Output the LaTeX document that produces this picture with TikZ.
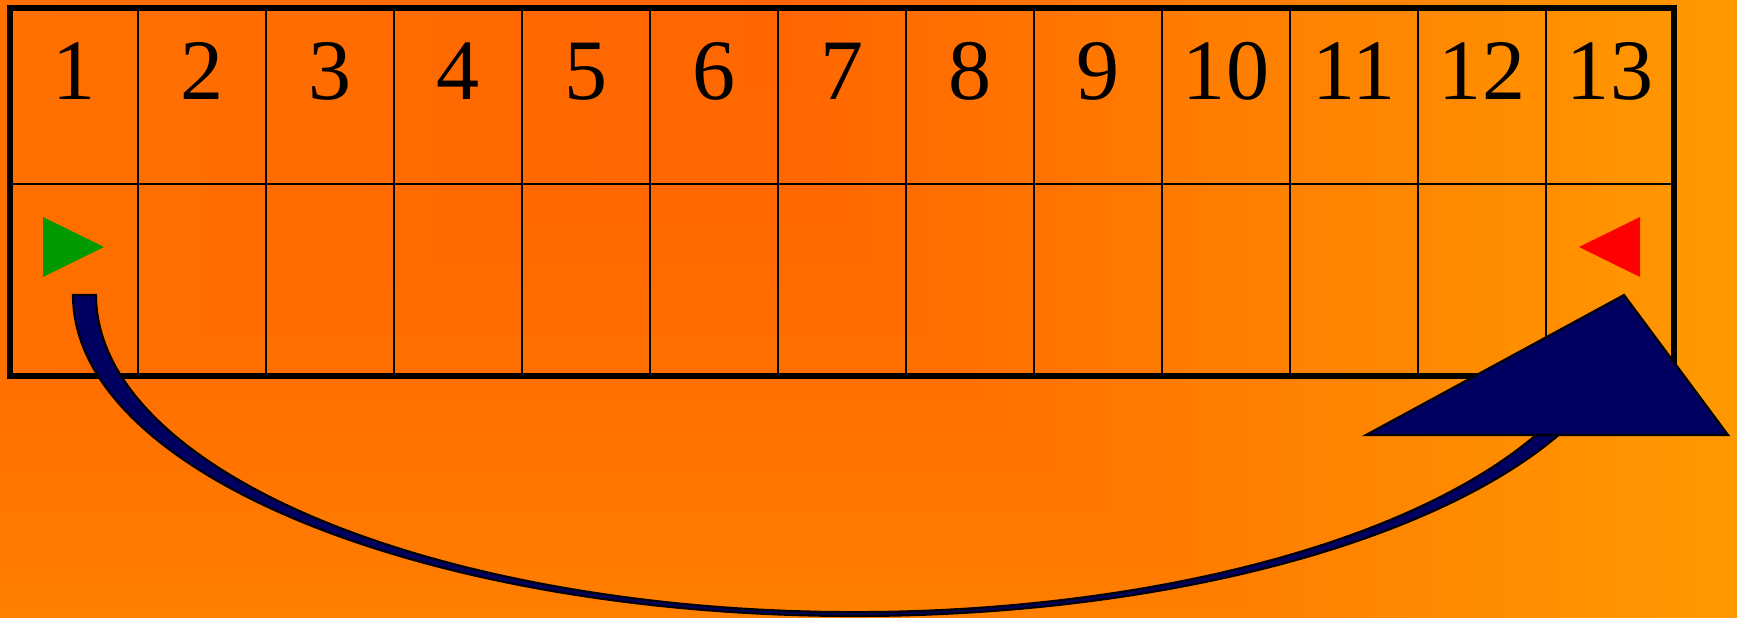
\documentclass[tikz,border=0pt]{standalone}
\usepackage{fontspec}
\setmainfont{Liberation Serif}
\usepackage{tikz}
\usetikzlibrary{positioning,calc}

\definecolor{arrownavy}{HTML}{000060}
\definecolor{startgreen}{HTML}{009900}
\definecolor{stopred}{HTML}{FF0000}

% orange background, darkest a bit left of the middle
\pgfdeclarefunctionalshading{orangebg}{\pgfpoint{0bp}{0bp}}{\pgfpoint{100bp}{100bp}}{}{
  25 sub 50 div 1 exch sub dup mul 0.1 mul 0.4 add
  exch 25 sub 50 div
  dup 0.45 lt {0.45 div 0.04 mul 0.44 exch sub} {0.45 sub 0.55 div 0.2 mul 0.4 add} ifelse
  2 copy lt {exch} if pop
  1 exch 0
}

\begin{document}
\begin{tikzpicture}[x=0.1mm, y=-0.1mm,
  cell/.style={draw=black, line width=0.65pt, minimum width=12.8mm, inner sep=0pt, outer sep=0pt},
  toprow/.style={cell, minimum height=17.6mm},
  botrow/.style={cell, minimum height=19.2mm},
  num/.style={font=\fontsize{24.5}{28}\selectfont, anchor=base, inner sep=0pt},
  jumppart/.style={fill=arrownavy, draw=black, line width=0.6pt, line join=miter}]
\useasboundingbox (0,0) rectangle (1737,618);
\shade[shading=orangebg] (0,0) rectangle (1737,618);

% Slots
\foreach \i in {1,...,13} {
  \node[toprow] (t\i) at (128*\i-54, 96) {};
  \node[botrow] (b\i) at (128*\i-54, 280) {};
  \node[num] (n\i) at (128*\i-54, 100) {\i};
}
\draw[line width=1.7pt] (t1.north west) rectangle (b13.south east);

% Start and end marks
\fill[startgreen] ($(b1.center)+(-31,-63)$) -- ++(0,60) -- ++(61,-30) -- cycle;
\fill[stopred] ($(b13.center)+(30,-63)$) -- ++(0,60) -- ++(-61,-30) -- cycle;

% Jump from slot 1 to slot 13
\coordinate (jc) at (855,295);
\coordinate (jtip) at (1624,295);
\coordinate (jbl) at (1366,435);
\coordinate (jbr) at (1728,435);
\draw[jumppart] (jc) ++(-782,0) arc[start angle=180, end angle=25.9, x radius=782, y radius=321]
   -- ($(jc)+(681,140)$) arc[start angle=26.2, end angle=180, x radius=759, y radius=317] -- cycle;
\draw[jumppart] (jtip) -- (jbr) -- (jbl) -- cycle;
\end{tikzpicture}
\end{document}
